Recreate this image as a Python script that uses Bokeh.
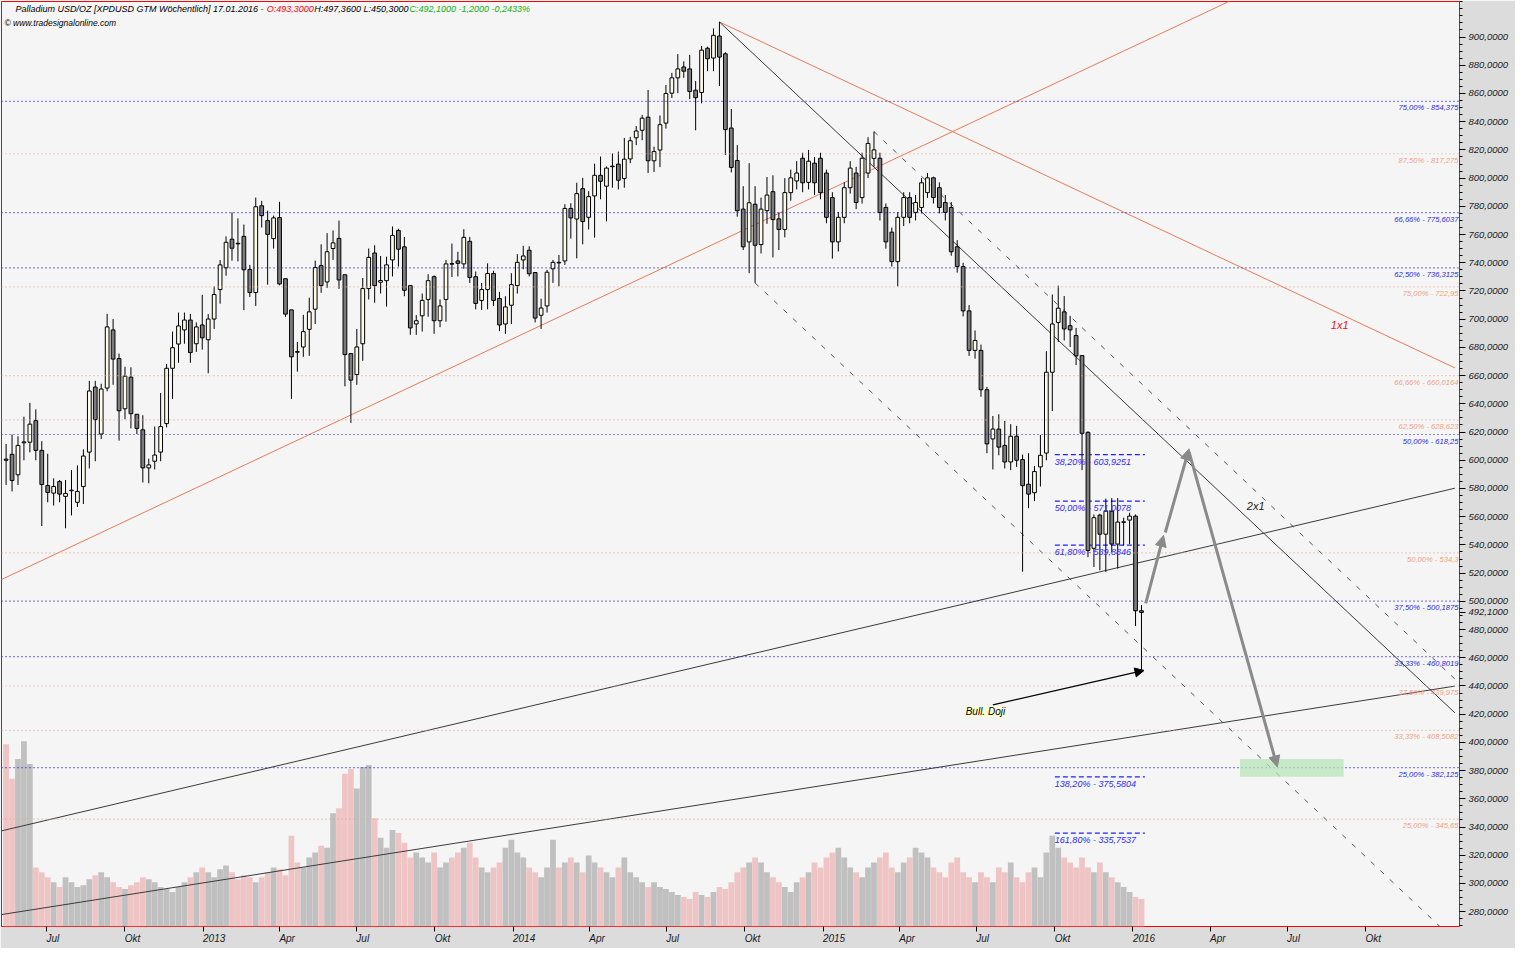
import datetime as dt
from bokeh.plotting import figure
from bokeh.models import (Range1d, FixedTicker, Span, Label, Arrow, NormalHead,
                          BoxAnnotation, ColumnDataSource)
from bokeh.embed import file_html
from bokeh.resources import INLINE

# ---------------- data ----------------
first_week = dt.datetime(2012, 5, 14)
n_weeks = 192

opens = [600.8,604.2,589.7,612.4,612.8,628.1,607.0,582.1,576.7,584.9,574.4,578.4,570.2,581.4,605.8,651.9,618.6,651.2,692.4,672.1,
         636.5,658.9,632.6,621.6,594.6,599.3,605.8,626.0,665.2,682.4,692.4,699.4,682.6,695.9,685.4,700.1,721.0,736.4,756.7,753.8,
         758.7,735.2,718.9,780.4,769.9,757.1,772.0,728.7,706.6,677.0,680.3,692.8,707.1,738.0,726.4,750.1,757.3,731.5,675.6,660.8,
         682.6,721.7,746.9,726.2,727.3,742.0,762.9,751.3,723.8,696.6,702.4,714.0,730.1,698.9,714.0,739.4,741.3,739.2,755.2,730.1,
         713.3,721.0,732.4,714.7,696.6,709.9,723.8,742.0,748.9,733.1,702.8,709.4,735.7,740.3,741.3,778.5,771.0,792.5,772.2,787.4,
         802.0,794.3,808.1,809.9,799.7,813.6,828.6,833.9,843.2,812.3,819.9,839.0,860.2,871.1,878.8,877.4,862.3,860.7,892.1,885.1,
         900.7,888.1,835.5,812.5,778.0,754.8,781.5,752.9,776.9,790.4,771.1,763.6,789.7,798.0,814.1,797.0,810.6,814.1,803.6,786.2,
         754.8,772.2,793.2,803.6,786.2,803.6,814.0,814.1,779.2,761.7,740.8,772.2,786.2,775.7,779.2,789.7,800.2,793.2,782.7,779.2,
         751.3,737.3,705.9,677.9,677.9,650.0,615.1,622.1,610.5,598.8,617.0,600.5,583.0,577.0,595.3,605.1,662.4,697.7,705.2,695.4,
         688.4,674.2,619.8,537.6,561.1,547.6,563.9,540.6,556.0,557.6,560.4,493.3]
highs = [611.6,618.2,617.0,630.9,640.7,636.1,613.5,604.6,587.2,586.0,586.0,593.0,596.3,607.7,656.3,656.3,654.2,703.8,700.1,675.6,
         666.3,665.9,632.6,631.9,601.1,623.9,647.7,668.2,691.2,704.7,704.7,703.8,697.7,717.3,703.6,723.3,741.9,758.7,775.7,771.5,
         767.1,738.5,786.2,783.9,776.9,773.4,783.2,728.7,706.6,683.8,703.1,715.2,741.5,753.1,761.0,762.9,769.9,731.5,675.6,693.1,
         729.2,750.1,752.4,744.8,744.3,765.7,764.1,758.3,723.8,702.9,718.2,731.9,731.0,714.0,742.0,753.6,747.8,763.8,758.3,733.8,
         725.7,739.6,734.3,719.4,716.3,732.6,746.1,752.0,751.7,733.1,714.5,735.0,742.0,745.5,781.5,782.2,796.7,800.2,790.8,810.2,
         815.3,808.3,817.4,818.8,828.5,829.2,836.9,844.8,862.5,822.3,844.4,866.0,874.6,887.9,882.8,887.4,868.8,893.7,893.2,906.1,
         910.7,889.3,849.0,823.4,794.3,810.6,794.3,786.2,800.8,802.0,775.7,800.0,806.0,812.0,818.0,820.0,815.0,818.0,806.0,790.0,
         776.0,797.0,812.0,808.0,818.0,829.0,833.0,818.0,782.0,765.0,776.0,790.0,790.0,788.0,800.0,803.6,801.0,797.0,788.0,783.0,
         756.0,740.0,710.0,692.0,682.0,652.0,631.4,632.6,627.9,625.6,624.4,604.0,605.0,596.0,617.9,677.3,717.5,723.8,716.4,702.4,
         693.8,674.2,620.5,561.6,562.1,572.8,573.2,573.2,559.3,562.8,561.6,497.36]
lows = [582.5,577.9,582.5,600.0,605.6,600.0,553.4,570.2,567.9,570.2,551.8,560.9,566.9,569.0,594.2,599.3,615.1,648.9,653.5,613.9,
        629.1,622.6,618.6,584.2,583.7,593.5,599.3,623.3,643.5,669.1,682.6,669.1,676.8,678.4,661.7,693.1,711.0,730.8,741.5,741.0,
        706.4,715.7,709.4,765.0,724.5,750.1,724.0,701.7,643.5,662.8,673.3,674.0,696.6,718.7,722.2,742.0,721.5,652.4,626.5,653.5,
        670.5,714.0,711.7,718.2,708.9,730.3,737.3,716.3,688.9,688.9,691.2,701.7,689.6,694.3,698.2,729.9,730.3,735.7,725.7,707.0,
        706.6,707.0,709.4,691.5,689.6,696.6,718.2,735.4,730.3,697.7,693.1,704.7,725.7,723.3,738.5,757.1,743.1,753.1,763.6,757.8,
        785.0,769.4,793.2,792.0,793.2,810.6,823.4,826.9,803.6,804.3,807.8,835.1,856.7,860.2,871.1,856.0,833.9,853.0,875.8,875.8,
        865.3,816.4,804.1,772.7,749.0,732.6,725.7,746.6,767.6,743.8,749.0,758.0,784.0,792.0,790.0,792.0,788.0,785.0,768.0,742.9,
        748.0,768.0,789.0,778.0,782.0,800.0,808.0,770.0,750.0,737.3,723.3,766.0,768.0,770.0,775.0,786.0,782.0,775.0,770.0,745.0,
        733.0,702.0,674.0,672.0,645.0,605.0,593.5,603.5,594.2,593.0,595.3,521.0,566.0,571.0,581.4,600.0,634.9,683.8,684.9,680.3,
        667.5,593.0,531.3,524.3,522.0,520.9,534.8,523.2,539.5,540.6,482.5,450.3]
closes = [600.0,585.6,610.5,613.0,625.6,607.0,582.8,577.2,581.4,576.0,576.5,578.8,577.9,603.0,649.1,628.8,650.5,694.5,671.7,635.1,
          659.6,633.0,622.6,594.6,596.7,603.7,623.9,665.2,679.8,695.2,699.4,676.3,694.5,686.8,700.1,717.5,738.5,754.5,750.3,753.4,
          735.0,718.9,779.7,773.4,760.1,771.8,725.0,703.6,673.3,676.6,691.2,705.2,736.6,723.8,747.8,754.1,727.8,674.9,656.8,680.3,
          721.7,743.8,723.8,727.4,738.5,759.4,749.6,720.5,693.8,698.9,713.3,727.3,698.9,709.4,739.2,739.0,739.6,758.0,729.6,711.2,
          721.0,732.4,713.3,695.9,708.7,724.5,740.3,744.8,732.2,700.8,707.9,733.3,740.3,739.9,778.5,771.8,789.0,769.2,786.9,802.0,
          797.8,807.1,808.5,798.5,813.4,826.5,833.4,842.5,812.3,818.8,837.9,860.0,871.1,877.4,875.8,861.4,857.0,890.7,884.6,901.2,
          885.8,834.4,807.6,776.9,751.3,782.5,752.4,778.0,788.0,770.6,763.6,789.7,800.2,803.6,796.7,812.0,796.7,789.7,772.2,754.8,
          772.2,793.2,807.1,782.7,814.1,824.6,820.0,775.7,754.8,740.8,772.2,786.2,772.2,782.7,796.7,800.2,786.2,779.2,775.7,747.8,
          737.3,705.9,677.9,684.9,650.0,611.6,622.1,609.3,598.8,617.0,600.0,582.0,576.0,592.0,603.5,662.4,696.6,707.8,693.1,692.4,
          674.0,619.1,536.0,559.3,547.6,563.9,540.6,556.2,556.4,560.4,493.3,492.1]
volumes = [185,150,170,188,165,
           60,55,50,45,40,50,45,40,42,48,52,55,50,45,40,38,42,45,50,48,45,40,38,35,40,45,50,55,
           60,55,50,58,62,55,48,52,50,45,
           50,55,60,58,52,92,65,60,70,75,82,80,
           115,120,155,160,140,162,164,110,
           90,80,98,95,85,70,75,70,65,75,
           60,65,70,75,80,85,70,60,55,60,65,80,88,75,70,60,55,50,60,88,60,65,
           70,65,55,72,65,60,55,50,60,70,55,50,45,40,45,40,38,
           35,32,30,28,35,32,30,35,40,38,45,55,
           60,65,70,65,55,50,45,40,35,
           45,50,55,65,60,70,75,80,70,60,55,50,60,
           65,70,75,60,55,65,70,80,75,70,60,55,50,65,70,55,50,45,55,
           50,45,60,55,65,50,45,55,60,50,
           75,92,80,70,65,60,
           70,60,55,65,55,50,45,40,35,
           30,28]

# x-axis tick dates and labels
tick_dates = [dt.datetime(2012,7,1), dt.datetime(2012,10,1), dt.datetime(2013,1,1), dt.datetime(2013,4,1),
              dt.datetime(2013,7,1), dt.datetime(2013,10,1), dt.datetime(2014,1,1), dt.datetime(2014,4,1),
              dt.datetime(2014,7,1), dt.datetime(2014,10,1), dt.datetime(2015,1,1), dt.datetime(2015,4,1),
              dt.datetime(2015,7,1), dt.datetime(2015,10,1), dt.datetime(2016,1,1), dt.datetime(2016,4,1),
              dt.datetime(2016,7,1), dt.datetime(2016,10,1)]
tick_labels = ["Jul","Okt","2013","Apr","Jul","Okt","2014","Apr","Jul","Okt","2015","Apr","Jul","Okt","2016","Apr","Jul","Okt"]

# Fibonacci levels (long, dotted)
fib_blue = [854.375, 775.6037, 736.3125, 618.25, 500.1875, 460.8019, 382.125]
fib_blue_text = ["75,00% - 854,375", "66,66% - 775,6037", "62,50% - 736,3125", "50,00% - 618,25",
                 "37,50% - 500,1875", "33,33% - 460,8019", "25,00% - 382,125"]
fib_salmon = [817.275, 722.95, 660.0164, 628.623, 534.3, 439.975, 408.5082, 345.65]
fib_salmon_text = ["87,50% - 817,275", "75,00% - 722,95", "66,66% - 660,0164", "62,50% - 628,623",
                   "50,00% - 534,3", "37,50% - 439,975", "33,33% - 408,5082", "25,00% - 345,65"]
# Fibonacci retracement (short, dashed)
retr = [603.9251, 571.0078, 539.8846, 375.5804, 335.7537]
retr_text = ["38,20% - 603,9251", "50,00% - 571,0078", "61,80% - 539,8846", "138,20% - 375,5804", "161,80% - 335,7537"]
retr_from, retr_to = dt.datetime(2015, 10, 1), dt.datetime(2016, 1, 15)

# trend lines: (date0, price0, date1, price1)
red_lines = [(dt.datetime(2012,5,8), 515.3, dt.datetime(2016,4,25), 925.8),
             (dt.datetime(2014,9,1), 910.7, dt.datetime(2017,1,14), 665.5)]
black_lines = [(dt.datetime(2014,9,1), 910.7, dt.datetime(2017,1,14), 421.0),
               (dt.datetime(2012,5,8), 337.2, dt.datetime(2017,1,14), 580.2),
               (dt.datetime(2012,5,8), 277.9, dt.datetime(2017,1,14), 439.9)]
dashed_lines = [(dt.datetime(2015,3,2), 833.0, dt.datetime(2017,1,14), 445.0),
                (dt.datetime(2014,10,13), 725.7, dt.datetime(2017,1,19), 256.7)]
grey_arrows = [(dt.datetime(2016,1,16), 498.5, dt.datetime(2016,2,6), 546.7),
               (dt.datetime(2016,2,8), 548.8, dt.datetime(2016,3,7), 608.1),
               (dt.datetime(2016,3,7), 606.0, dt.datetime(2016,6,19), 382.6)]
doji_arrow = (dt.datetime(2015,7,20), 426.6, dt.datetime(2016,1,14), 451.0)
target_box = (dt.datetime(2016,5,6), dt.datetime(2016,9,5), 375.6, 388.2)

last_close = 492.1
last_close_text = "492,1000"

# ---------------- helpers ----------------
EPOCH = dt.datetime(1970, 1, 1)
def ms(d):
    return (d - EPOCH).total_seconds() * 1000.0
DAY = 86400000.0

dates = [first_week + dt.timedelta(weeks=i) for i in range(n_weeks)]
xs = [ms(d) for d in dates]
up = [c >= o for o, c in zip(opens, closes)]

x_start = ms(dt.datetime(2012, 5, 8, 14))
x_end = ms(dt.datetime(2017, 1, 19, 12))
y_lo, y_hi = 269.5, 925.2

p = figure(width=1515, height=948, x_axis_type="datetime", y_axis_location="right",
           x_range=Range1d(x_start, x_end), y_range=Range1d(y_lo, y_hi),
           output_backend="svg", toolbar_location=None,
           min_border_left=1, min_border_top=1, min_border_right=56, min_border_bottom=22)
p.extra_y_ranges = {"vol": Range1d(0, 939)}
p.background_fill_color = "#f5f5f5"
p.border_fill_color = "#dcdcdc"
p.outline_line_color = "#ff0000"
p.outline_line_width = 1
p.xgrid.visible = False
p.ygrid.visible = False

FONT = "Liberation Sans"

# volume
vsrc = ColumnDataSource(dict(x=xs, top=volumes,
                             color=["#c0c0c0" if u else "#efc4c4" for u in up]))
p.vbar(x="x", top="top", bottom=0, width=7 * DAY * 0.97, source=vsrc, y_range_name="vol",
       fill_color="color", line_color=None)

# fib dotted levels
for lvl in fib_blue:
    p.add_layout(Span(location=lvl, dimension="width", line_color="#1a1ad0", line_dash="1 3", line_width=1.2))
for lvl in fib_salmon:
    p.add_layout(Span(location=lvl, dimension="width", line_color="#e8a58f", line_dash="1 3", line_width=1.2))
for lvl, t in zip(fib_blue, fib_blue_text):
    p.add_layout(Label(x=x_end, y=lvl, text=t, text_align="right", text_baseline="top", x_offset=-1, y_offset=-2,
                       text_font=FONT, text_font_size="7.6px", text_font_style="italic", text_color="#2828e0"))
for lvl, t in zip(fib_salmon, fib_salmon_text):
    p.add_layout(Label(x=x_end, y=lvl, text=t, text_align="right", text_baseline="top", x_offset=-1, y_offset=-2,
                       text_font=FONT, text_font_size="7.6px", text_font_style="italic", text_color="#f0a080"))

# retracement dashed
for lvl, t in zip(retr, retr_text):
    p.segment(x0=[ms(retr_from)], y0=[lvl], x1=[ms(retr_to)], y1=[lvl], line_color="#2020ff",
              line_dash="5 3", line_width=1.2)
    p.add_layout(Label(x=ms(retr_from), y=lvl, text=t, text_align="left", text_baseline="top", y_offset=-2,
                       text_font=FONT, text_font_size="9px", text_font_style="italic", text_color="#2a2aff"))

# trend lines
for d0, p0, d1, p1 in red_lines:
    p.line([ms(d0), ms(d1)], [p0, p1], line_color="#ea7a5a", line_width=1)
for d0, p0, d1, p1 in black_lines:
    p.line([ms(d0), ms(d1)], [p0, p1], line_color="#3a3a3a", line_width=1)
for d0, p0, d1, p1 in dashed_lines:
    p.line([ms(d0), ms(d1)], [p0, p1], line_color="#555555", line_width=1, line_dash="5 8")

# target box
p.add_layout(BoxAnnotation(left=ms(target_box[0]), right=ms(target_box[1]), bottom=target_box[2], top=target_box[3],
                           fill_color="#b8e4b8", fill_alpha=0.75, line_color=None))

# candles
csrc = ColumnDataSource(dict(x=xs, o=opens, h=highs, l=lows, c=closes,
                             top=[max(o, c) for o, c in zip(opens, closes)],
                             bot=[min(o, c) for o, c in zip(opens, closes)],
                             fill=["#fdfbe9" if u else "#7c7c7c" for u in up]))
p.segment(x0="x", y0="l", x1="x", y1="h", source=csrc, line_color="black", line_width=1)
p.vbar(x="x", top="top", bottom="bot", width=4.4 * DAY, source=csrc, fill_color="fill",
       line_color="black", line_width=1)

# arrows
for d0, p0, d1, p1 in grey_arrows:
    p.add_layout(Arrow(end=NormalHead(size=11, fill_color="#8a8a8a", line_color="#8a8a8a"),
                       x_start=ms(d0), y_start=p0, x_end=ms(d1), y_end=p1,
                       line_color="#8a8a8a", line_width=3))
p.add_layout(Arrow(end=NormalHead(size=9, fill_color="black", line_color="black"),
                   x_start=ms(doji_arrow[0]), y_start=doji_arrow[1], x_end=ms(doji_arrow[2]), y_end=doji_arrow[3],
                   line_color="black", line_width=1.3))

# annotations text
p.add_layout(Label(x=ms(dt.datetime(2015,6,18)), y=421.7, text="Bull. Doji", text_baseline="middle",
                   text_font=FONT, text_font_size="10px", text_font_style="italic", text_color="black",
                   background_fill_color="#ffffd6", background_fill_alpha=1.0))
p.add_layout(Label(x=ms(dt.datetime(2016,8,21)), y=696.1, text="1x1", text_baseline="middle",
                   text_font=FONT, text_font_size="11px", text_font_style="italic", text_color="#e02020"))
p.add_layout(Label(x=ms(dt.datetime(2016,5,14)), y=567.6, text="2x1", text_baseline="middle",
                   text_font=FONT, text_font_size="11px", text_font_style="italic", text_color="#202020"))

# header
hdr_y = 919.8
hdr_parts = [(dt.datetime(2012,5,25), "Palladium USD/OZ [XPDUSD GTM  W\u00f6chentlich] 17.01.2016 - ", "#000000"),
             (dt.datetime(2013,3,17), "O:493,3000", "#ff0000"),
             (dt.datetime(2013,5,12), "H:497,3600 L:450,3000", "#000000"),
             (dt.datetime(2013,9,1), "C:492,1000 -1,2000 -0,2433%", "#10b010")]
for d, t, col in hdr_parts:
    p.add_layout(Label(x=ms(d), y=hdr_y, text=t, text_baseline="middle", text_font=FONT, text_font_size="9px",
                       text_font_style="italic", text_color=col))
p.add_layout(Label(x=ms(dt.datetime(2012,5,12)), y=hdr_y - 9.5, text="\u00a9 www.tradesignalonline.com",
                   text_baseline="middle", text_font=FONT, text_font_size="8.5px", text_font_style="italic",
                   text_color="#000000"))

# y axis
yax = p.yaxis[0]
yticks = list(range(280, 901, 20))
yax.ticker = FixedTicker(ticks=yticks + [last_close], minor_ticks=list(range(270, 926, 5)))
overrides = {t: f"{t},0000" for t in yticks}
overrides[last_close] = last_close_text
yax.major_label_overrides = overrides
yax.axis_line_color = None
yax.major_tick_out = 6
yax.major_tick_in = 0
yax.minor_tick_out = 3
yax.minor_tick_in = 0
yax.major_tick_line_color = "black"
yax.minor_tick_line_color = "black"
yax.major_label_standoff = 3
yax.major_label_text_font = FONT
yax.major_label_text_font_size = "9.5px"
yax.major_label_text_font_style = "italic"
yax.major_label_text_color = "#1a1a1a"

# x axis
label_offsets = {"Jul": 7, "Okt": 9, "Apr": 9}
label_pos = [ms(d) + label_offsets.get(t, 13) * DAY for d, t in zip(tick_dates, tick_labels)]
xax = p.xaxis[0]
xax.ticker = FixedTicker(ticks=label_pos, minor_ticks=[ms(d) for d in tick_dates])
xax.major_label_overrides = {v: t for v, t in zip(label_pos, tick_labels)}
xax.axis_line_color = None
xax.major_tick_line_color = None
xax.major_tick_out = 0
xax.major_tick_in = 0
xax.minor_tick_out = 5
xax.minor_tick_in = 0
xax.minor_tick_line_color = "black"
xax.major_label_standoff = 1
xax.major_label_text_font = FONT
xax.major_label_text_font_size = "10px"
xax.major_label_text_font_style = "italic"
xax.major_label_text_color = "#1a1a1a"

open("out.html", "w").write(file_html(p, INLINE))
